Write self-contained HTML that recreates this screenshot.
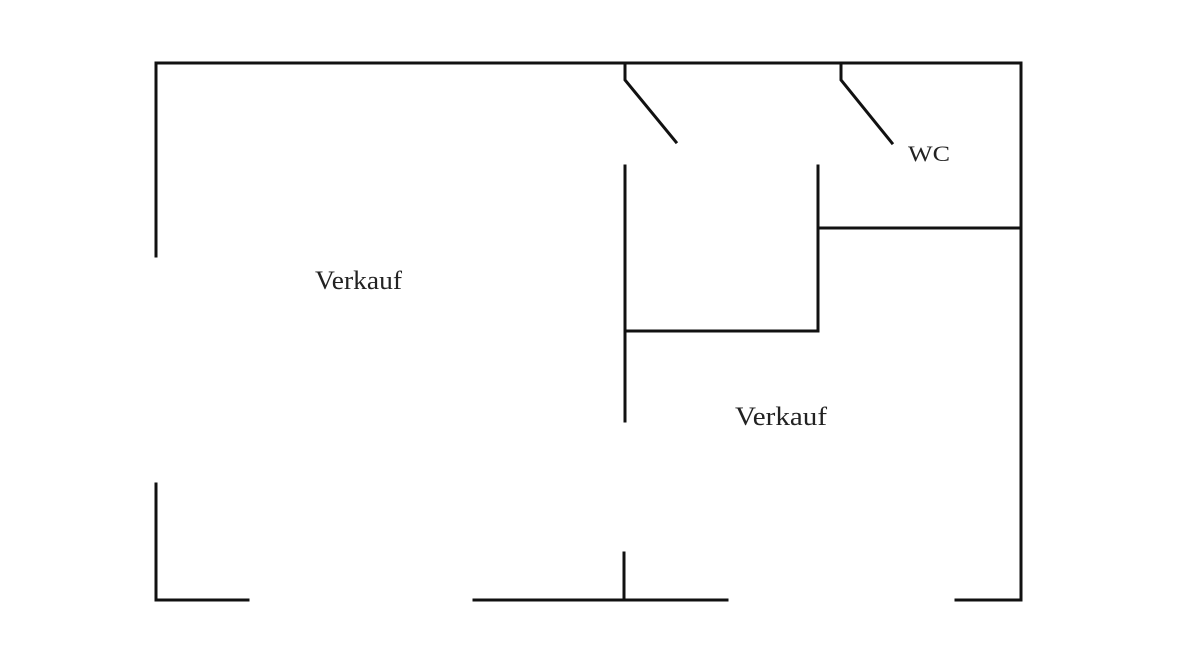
<!DOCTYPE html>
<html><head><meta charset="utf-8"><style>
html,body{margin:0;padding:0;background:#fff;width:1200px;height:655px;overflow:hidden}
</style></head><body>
<svg width="1200" height="655" viewBox="0 0 1200 655" xmlns="http://www.w3.org/2000/svg">
<g stroke="#111" stroke-width="3" fill="none" stroke-linecap="square">
<line x1="156" y1="63" x2="1021" y2="63"/>
<line x1="156" y1="63" x2="156" y2="256"/>
<line x1="156" y1="484" x2="156" y2="600"/>
<line x1="156" y1="600" x2="248" y2="600"/>
<line x1="474" y1="600" x2="727" y2="600"/>
<line x1="956" y1="600" x2="1021" y2="600"/>
<line x1="1021" y1="63" x2="1021" y2="600"/>
<line x1="624" y1="553" x2="624" y2="600"/>
<polyline points="625,65 625,80 676,142"/>
<polyline points="841,65 841,80 892,143"/>
<line x1="625" y1="166" x2="625" y2="421"/>
<line x1="625" y1="331" x2="818" y2="331"/>
<line x1="818" y1="166" x2="818" y2="331"/>
<line x1="818" y1="228" x2="1021" y2="228"/>
</g>
<g font-family="Liberation Serif, serif" font-size="26" fill="#222">
<text x="315" y="289" textLength="87" lengthAdjust="spacingAndGlyphs">Verkauf</text>
<text x="735" y="425" textLength="92" lengthAdjust="spacingAndGlyphs">Verkauf</text>
<text x="908" y="161" font-size="22" textLength="42" lengthAdjust="spacingAndGlyphs">WC</text>
</g>
</svg>
</body></html>
